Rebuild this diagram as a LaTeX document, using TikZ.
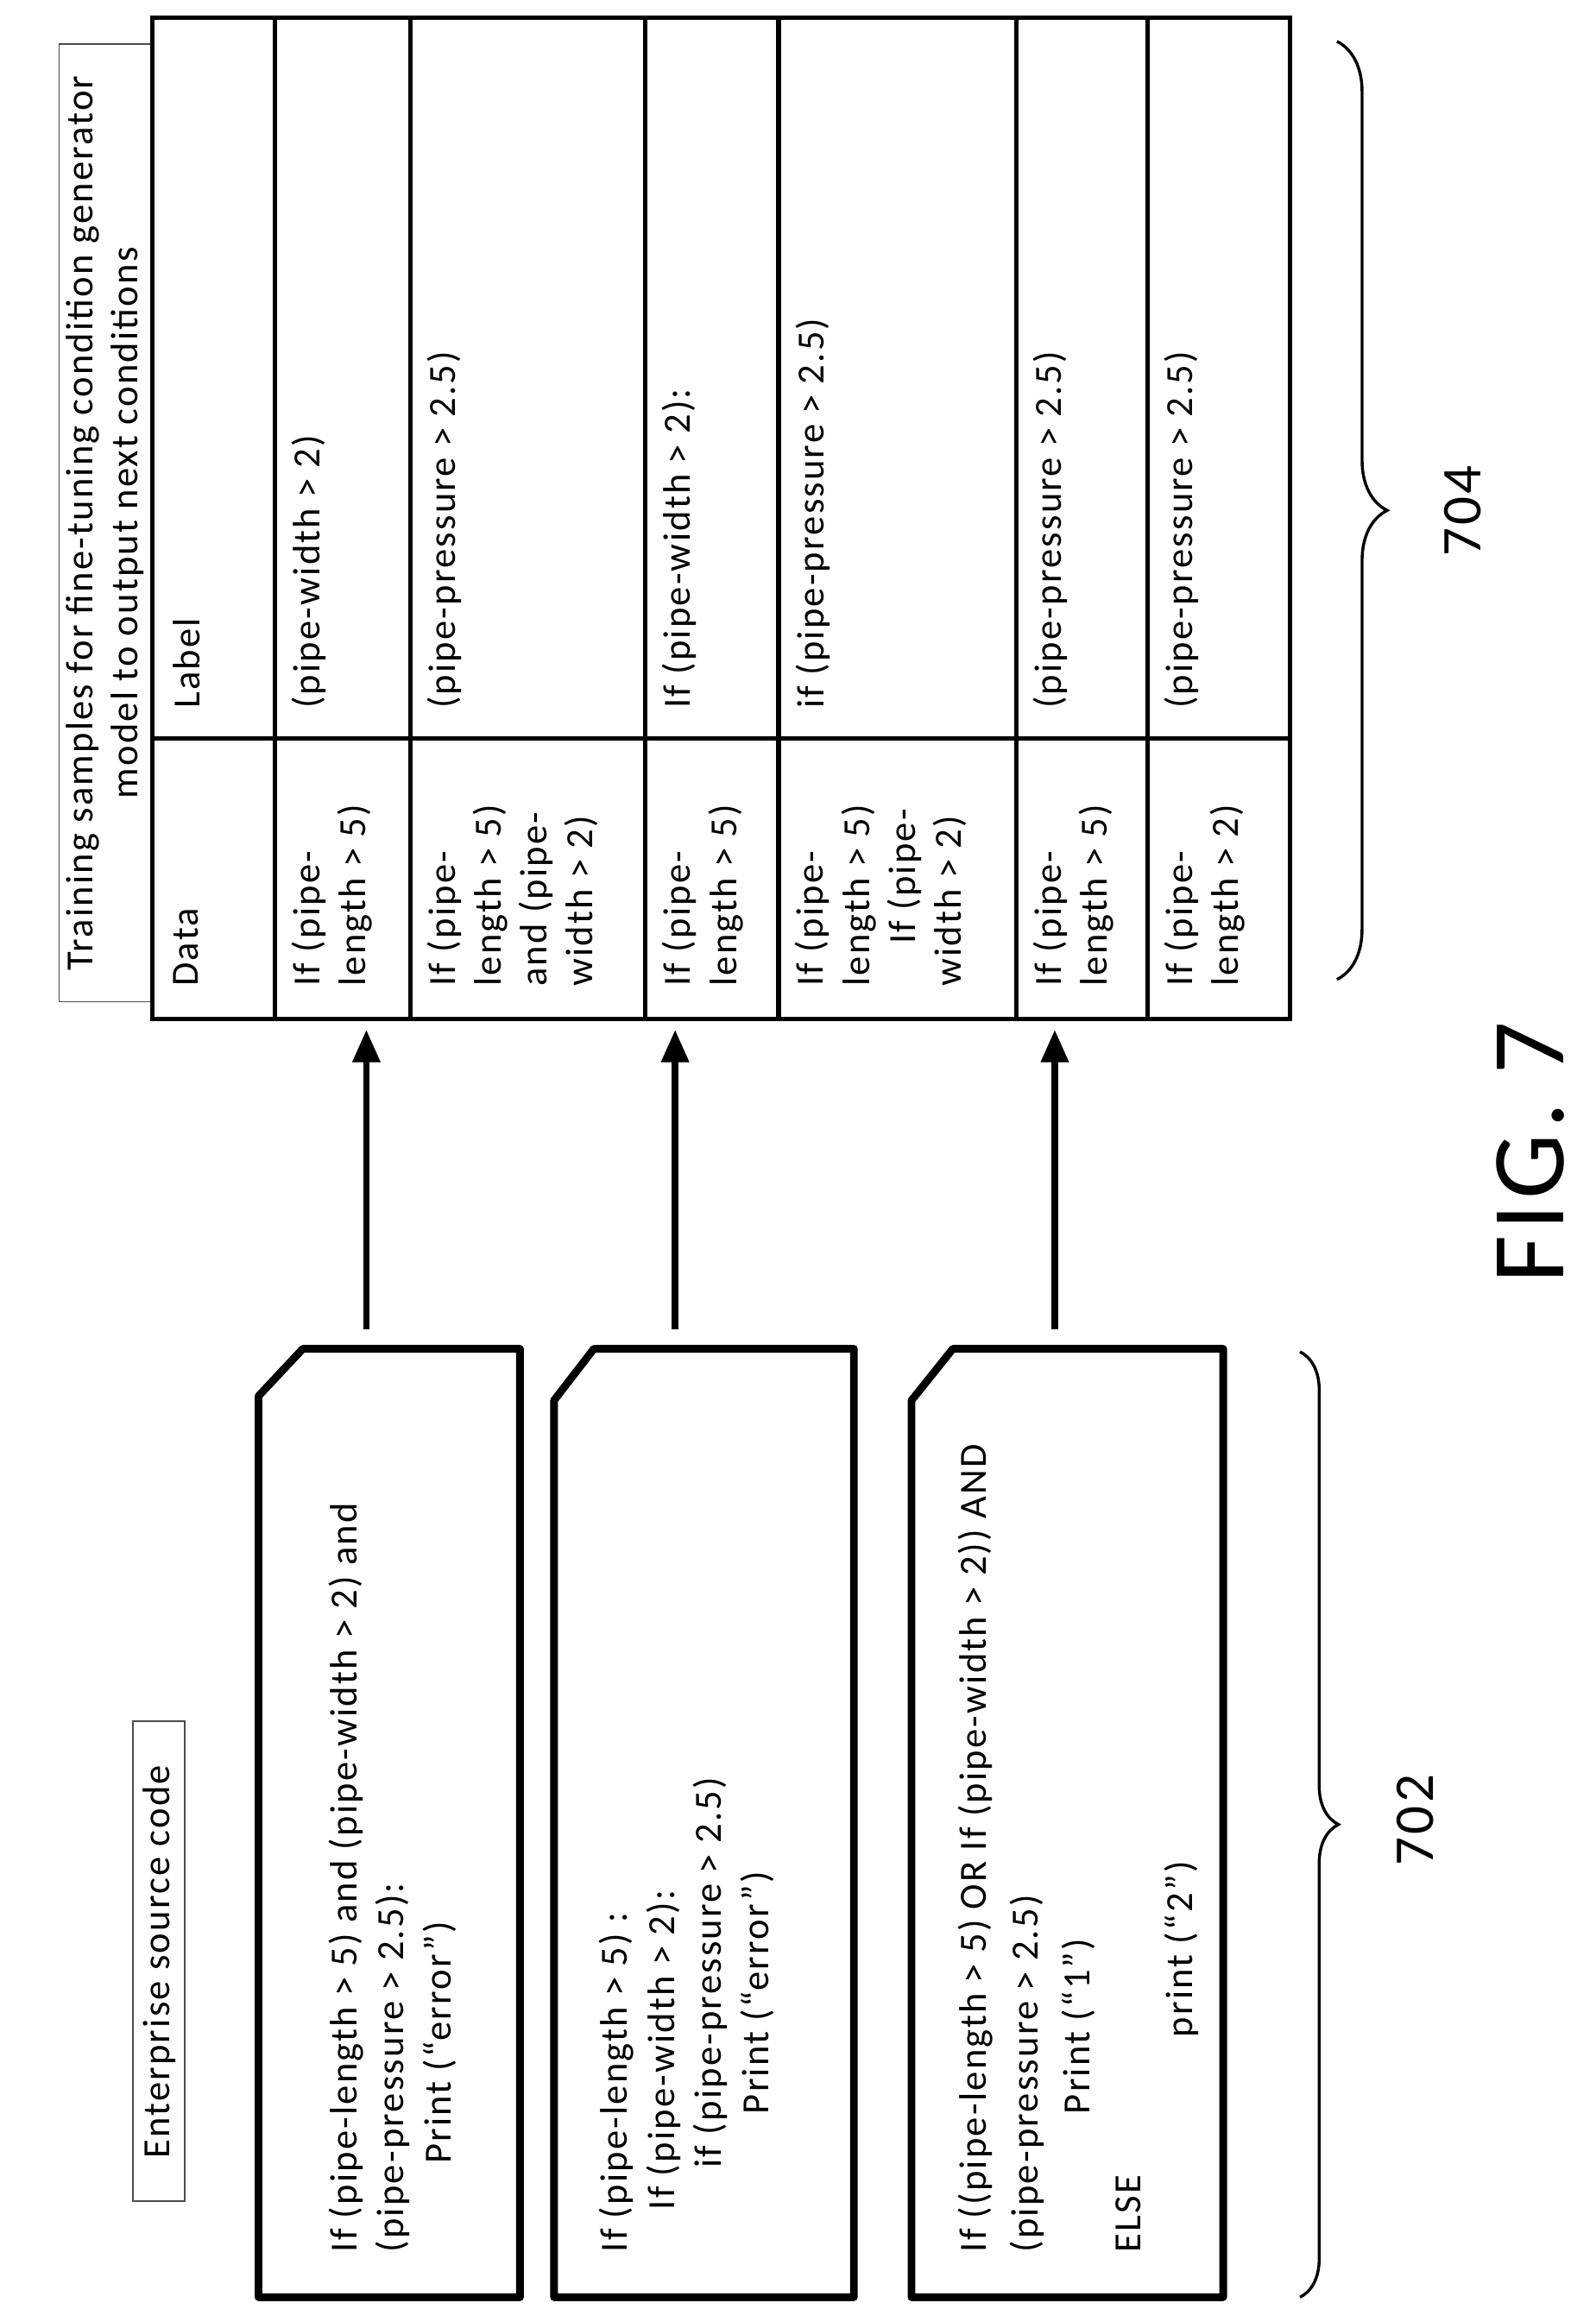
\documentclass[tikz,border=0pt]{standalone}
\usepackage{fontspec}
\setmainfont{Carlito}[LetterSpace=5]
\usetikzlibrary{decorations.pathreplacing,arrows.meta}
\begin{document}
\begin{tikzpicture}[x=0.5pt,y=-0.5pt,
  txt/.style={rotate=90,anchor=north west,align=left,inner sep=0pt,font=\fontsize{13}{15.5}\selectfont},
  thin/.style={draw=black!70,line width=0.5pt},
  tab/.style={line width=1.5pt},
  code/.style={line width=2.6pt,line join=round},
  arr/.style={line width=2.2pt,-{Triangle[length=11pt,width=9pt]}},
  br/.style={line width=1pt,decorate}]
\useasboundingbox (0,0) rectangle (1080,1563);
% title box
\draw[thin] (40,30) rectangle (103,678);
\node[rotate=90,align=center,font=\fontsize{13}{15}\selectfont] (title) at (71,354) {Training samples for fine-tuning condition generator\\model to output next conditions};
% table
\draw[tab] (103,12) rectangle (873,690);
\foreach \x in {186,278,437,527,688,777} \draw[tab] (\x,12) -- (\x,690);
\draw[tab] (103,500) -- (873,500);
\node[txt] (dh) at (117,668) {Data};
\node[txt] (lh) at (117,480) {Label};
\node[txt] (d1) at (197,668) {If (pipe-\\length > 5)};
\node[txt] (l1) at (197,480) {(pipe-width > 2)};
\node[txt] (d2) at (289,668) {If (pipe-\\length > 5)\\and (pipe-\\width > 2)};
\node[txt] (l2) at (289,480) {(pipe-pressure > 2.5)};
\node[txt] (d3) at (448,668) {If (pipe-\\length > 5)};
\node[txt] (l3) at (448,480) {If (pipe-width > 2):};
\node[txt] (d4) at (538,668) {If (pipe-\\length > 5)\\\hspace{1.1em}If (pipe-\\width > 2)};
\node[txt] (l4) at (538,480) {if (pipe-pressure > 2.5)};
\node[txt] (d5) at (699,668) {If (pipe-\\length > 5)};
\node[txt] (l5) at (699,480) {(pipe-pressure > 2.5)};
\node[txt] (d6) at (788,668) {If (pipe-\\length > 2)};
\node[txt] (l6) at (788,480) {(pipe-pressure > 2.5)};
% brace 704
\draw[br,decoration={brace,amplitude=17pt}] (905,28) -- (905,663);
\node[rotate=90,font=\fontsize{19}{19}\selectfont] (n704) at (990,346) {704};
% enterprise box
\draw[thin] (90,1165) rectangle (125,1490);
\node[rotate=90,font=\fontsize{13}{15}\selectfont] (ent) at (108,1328) {Enterprise source code};
% code boxes
\draw[code] (175,945) -- (205,913) -- (352,913) -- (352,1555) -- (175,1555) -- cycle;
\draw[code] (375,948) -- (402,913) -- (578,913) -- (578,1555) -- (375,1555) -- cycle;
\draw[code] (617,948) -- (645,913) -- (828,913) -- (828,1555) -- (617,1555) -- cycle;
\node[txt,font=\fontsize{13}{16}\selectfont] (c1) at (222,1525) {If (pipe-length > 5) and (pipe-width > 2) and\\(pipe-pressure > 2.5):\\\hspace{2.3em}Print (“error”)};
\node[txt,font=\fontsize{13}{16}\selectfont] (c2) at (405,1525) {If (pipe-length > 5) :\\\hspace{1.1em}If (pipe-width > 2):\\\hspace{2.2em}if (pipe-pressure > 2.5)\\\hspace{3.6em}Print (“error”)};
\node[txt,font=\fontsize{13}{17.5}\selectfont] (c3) at (648,1525) {If ((pipe-length > 5) OR If (pipe-width > 2)) AND\\(pipe-pressure > 2.5)\\\hspace{3.6em}Print (“1”)\\ELSE\\\hspace{5.6em}print (“2”)};
% arrows
\coordinate (a1s) at (248,900); \coordinate (a1e) at (248,697);
\coordinate (a2s) at (457,900); \coordinate (a2e) at (457,697);
\coordinate (a3s) at (714,900); \coordinate (a3e) at (714,697);
\draw[arr] (a1s) -- (a1e);
\draw[arr] (a2s) -- (a2e);
\draw[arr] (a3s) -- (a3e);
% brace 702
\draw[br,decoration={brace,amplitude=13pt}] (880,915) -- (880,1555);
\node[rotate=90,font=\fontsize{19}{19}\selectfont] (n702) at (958,1232) {702};
\node[rotate=90,font=\fontsize{35}{35}\selectfont] (fig) at (1036,780) {FIG. 7};
\end{tikzpicture}
\end{document}
